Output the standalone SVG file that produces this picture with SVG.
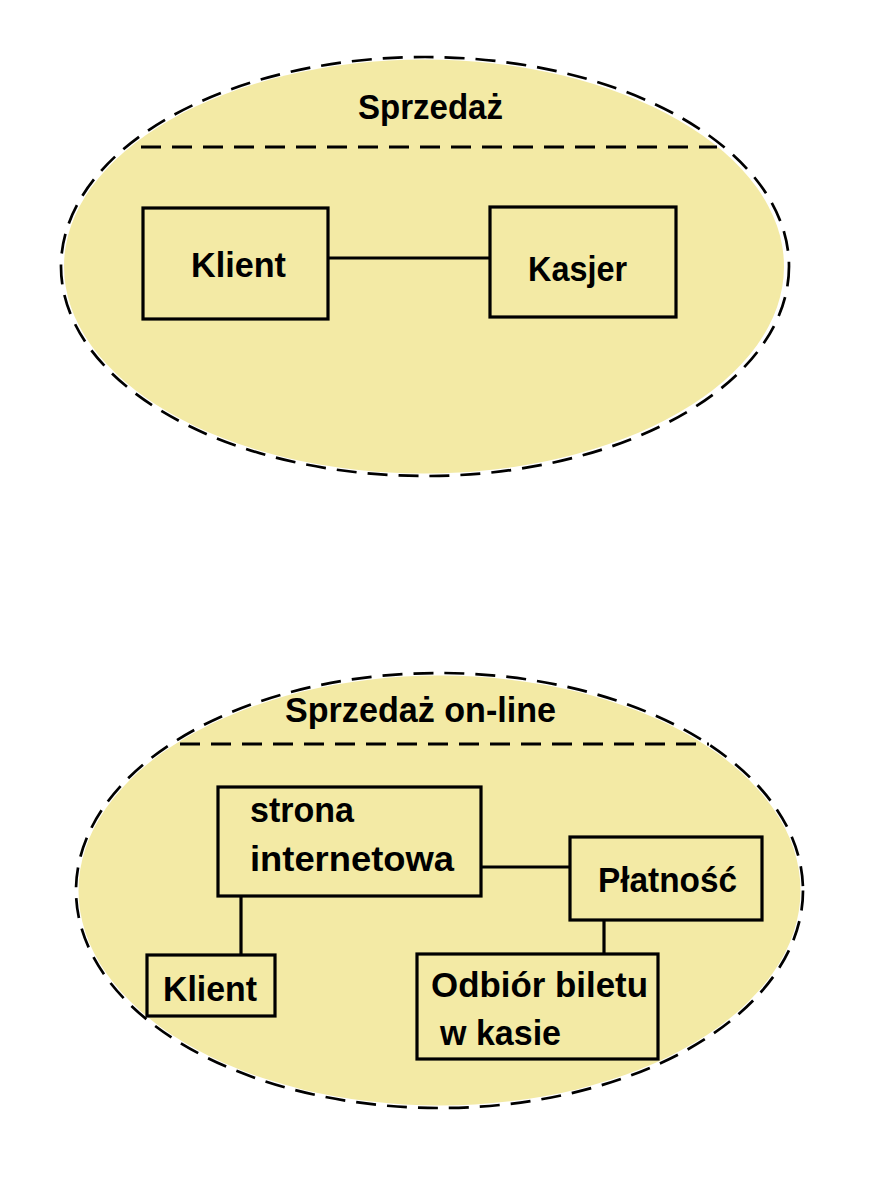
<svg xmlns="http://www.w3.org/2000/svg" width="872" height="1178" viewBox="0 0 872 1178">
<style>
.bg{fill:#F3EAA5;stroke:none}
.outline{fill:none;stroke:#000;stroke-width:2.7;stroke-dasharray:20 11}
.sep{fill:none;stroke:#000;stroke-width:3;stroke-dasharray:20 11}
.box{fill:#F3EAA5;stroke:#000;stroke-width:3.2}
.conn{stroke:#000;stroke-width:3.2;fill:none}
text{font-family:"Liberation Sans",Arial,sans-serif;font-weight:bold;font-size:35px;fill:#000}
</style>
<rect x="0" y="0" width="872" height="1178" fill="#fff"/>
<g id="sprzedaz">
<ellipse class="bg" cx="424" cy="266.5" rx="360" ry="207"/>
<ellipse class="outline" cx="425" cy="266.5" rx="364" ry="209.5"/>
<line class="sep" x1="141" y1="147" x2="717" y2="147"/>
<text x="358" y="119" textLength="145" lengthAdjust="spacingAndGlyphs">Sprzedaż</text>
</g>
<g id="sprzedaz-online">
<ellipse class="bg" cx="439.5" cy="890.5" rx="361" ry="215"/>
<ellipse class="outline" cx="439.5" cy="890.5" rx="363.5" ry="217.5"/>
<line class="sep" x1="180" y1="744" x2="709" y2="744"/>
<text x="285" y="722" textLength="271" lengthAdjust="spacingAndGlyphs">Sprzedaż on-line</text>
</g>
<g id="connectors">
<line class="conn" x1="328" y1="258" x2="490" y2="258"/>
<line class="conn" x1="481" y1="867" x2="570" y2="867"/>
<line class="conn" x1="241" y1="896" x2="241" y2="955"/>
<line class="conn" x1="604" y1="920" x2="604" y2="954"/>
</g>
<g id="klient1">
<rect class="box" x="143" y="208" width="185" height="111"/>
<text x="191" y="277" textLength="95" lengthAdjust="spacingAndGlyphs">Klient</text>
</g>
<g id="kasjer">
<rect class="box" x="490" y="207" width="186" height="110"/>
<text x="528" y="281" textLength="99" lengthAdjust="spacingAndGlyphs">Kasjer</text>
</g>
<g id="strona">
<rect class="box" x="218" y="787" width="263" height="109"/>
<text x="250" y="822" textLength="104" lengthAdjust="spacingAndGlyphs">strona</text>
<text x="250" y="871" textLength="204" lengthAdjust="spacingAndGlyphs">internetowa</text>
</g>
<g id="platnosc">
<rect class="box" x="570" y="837" width="192" height="83"/>
<text x="598" y="892" textLength="139" lengthAdjust="spacingAndGlyphs">Płatność</text>
</g>
<g id="klient2">
<rect class="box" x="147" y="955" width="128" height="61"/>
<text x="163" y="1001" textLength="94" lengthAdjust="spacingAndGlyphs">Klient</text>
</g>
<g id="odbior">
<rect class="box" x="417" y="954" width="241" height="105"/>
<text x="431" y="997" textLength="217" lengthAdjust="spacingAndGlyphs">Odbiór biletu</text>
<text x="440" y="1045" textLength="121" lengthAdjust="spacingAndGlyphs">w kasie</text>
</g>
</svg>
